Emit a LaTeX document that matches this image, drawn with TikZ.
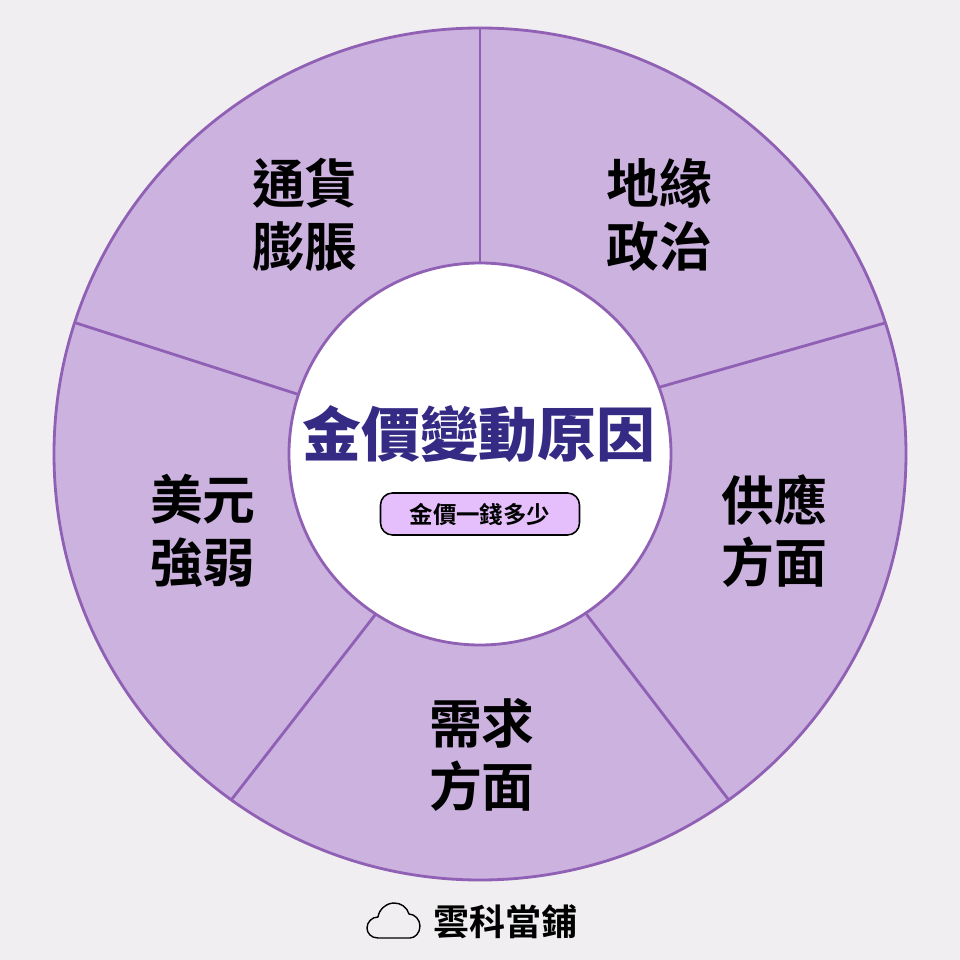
\documentclass[tikz,border=0pt]{standalone}
\usepackage{fontspec}
\setmainfont{Noto Sans CJK TC}[BoldFont={* Black}]
\newfontfamily\titlefont{Noto Sans CJK TC Black}
\newfontfamily\labelfont{Noto Sans CJK TC Bold}
\definecolor{pagebg}{HTML}{F0EEF0}
\definecolor{wheelfill}{HTML}{CBB2DF}
\definecolor{wheelline}{HTML}{9060B5}
\definecolor{titleblue}{HTML}{352B85}
\definecolor{pillfill}{HTML}{E4BFFC}
\tikzset{
	causelabel/.style={align=center,text=black,font=\labelfont\fontsize{37.6}{44.5}\selectfont},
	spokeline/.style={wheelline,line width=2pt},
}
\begin{document}
\begin{tikzpicture}[line join=round,line cap=round,x=.025cm,y=.025cm,declare function={
		R=426;r=191;}
	]
	\useasboundingbox[fill=pagebg] (-480,-506) rectangle (480,454);
	\filldraw[fill=wheelfill,draw=wheelline,line width=2pt] (0,0) circle (R);
	\foreach \ax/\ay/\bx/\by in {0/191/0/426,180/67/405/131,107/-161/248/-345,-105/-161/-248/-345,-183/60/-404/131}
	\draw[spokeline] (\ax,\ay)--(\bx,\by);
	\filldraw[fill=white,draw=wheelline,line width=2pt] (0,0) circle (r);
	% labels
	\node[causelabel] (inflation) at (-175,239) {通貨\\膨脹};
	\node[causelabel] (politics) at (179,239) {地緣\\政治};
	\node[causelabel] (supply) at (294,-77) {供應\\方面};
	\node[causelabel] (demand) at (2,-301) {需求\\方面};
	\node[causelabel] (dollar) at (-277,-77) {美元\\強弱};
	\node[text=titleblue,font=\titlefont\fontsize{41.8}{45}\selectfont] (title) at (-1,20) {金價變動原因};
	\node[draw=black,fill=pillfill,line width=1.1pt,rounded corners=.3cm,minimum width=199*.025cm,minimum height=42*.025cm,inner sep=0pt,font=\labelfont\fontsize{16.7}{20}\selectfont] (price) at (0,-60) {金價一錢多少};
	\node[anchor=west,inner sep=0pt,font=\labelfont\fontsize{25.6}{30}\selectfont] (brand) at (-47,-468) {雲科當鋪};
	% cloud
	\draw[line width=1pt,fill=none,shift={(-480,454)},yscale=-1] (378,938) .. controls (371,938) and (367,933) .. (367,928)
	.. controls (367,922) and (372,917) .. (378,917)
	.. controls (379,909) and (387,903) .. (394,903)
	.. controls (401,903) and (407,907) .. (409,914)
	.. controls (415,914) and (420,920) .. (420,926)
	.. controls (420,933) and (415,938) .. (410,938)--cycle;
\end{tikzpicture}
\end{document}
